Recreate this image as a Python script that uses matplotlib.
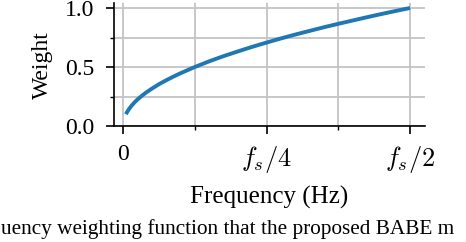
import matplotlib
matplotlib.use("Agg")
import matplotlib.pyplot as plt
from matplotlib.ticker import FixedLocator

plt.rcParams['font.family'] = ['Liberation Serif', 'DejaVu Serif']
plt.rcParams['mathtext.fontset'] = 'cm'

# normalized frequency (fraction of fs/2) and weight
freq = [0.01, 0.015, 0.02, 0.03, 0.04, 0.05, 0.065, 0.08, 0.10, 0.125, 0.15, 0.175,
        0.20, 0.25, 0.30, 0.35, 0.40, 0.45, 0.50, 0.55, 0.60, 0.65, 0.70, 0.75,
        0.80, 0.85, 0.90, 0.95, 1.00]
weight = [0.10, 0.122, 0.141, 0.173, 0.20, 0.224, 0.255, 0.283, 0.316, 0.354, 0.387,
          0.418, 0.447, 0.50, 0.548, 0.592, 0.632, 0.671, 0.707, 0.742, 0.775, 0.806,
          0.837, 0.866, 0.894, 0.922, 0.949, 0.975, 1.00]

xtick_pos = [0.0, 0.5, 1.0]
xtick_labels = ['0', r'$f_s/4$', r'$f_s/2$']
ytick_pos = [0.0, 0.5, 1.0]
ytick_labels = ['0.0', '0.5', '1.0']

W, H = 466, 242
fig = plt.figure(figsize=(W / 100, H / 100), dpi=100)
x0, x1 = 114, 425
ybot = 126
ylim_top = 1.04
ppu = 118
ax = fig.add_axes([x0 / W, 1 - ybot / H, (x1 - x0) / W, ylim_top * ppu / H])

ax.plot(freq, weight, color='#1f77b4', linewidth=2.8, solid_capstyle='butt',
        solid_joinstyle='round', zorder=3)

ax.set_xlim(-0.0315, 1.052)
ax.set_ylim(0, ylim_top)

ax.xaxis.set_major_locator(FixedLocator(xtick_pos))
ax.set_xticklabels(xtick_labels)
ax.xaxis.set_minor_locator(FixedLocator([0.25, 0.75]))
ax.yaxis.set_major_locator(FixedLocator(ytick_pos))
ax.set_yticklabels(ytick_labels)
ax.yaxis.set_minor_locator(FixedLocator([0.25, 0.75]))

ax.grid(True, which='both', color='#c4c4c4', linewidth=1.3, zorder=0)
ax.set_axisbelow(True)

for s in ['top', 'right']:
    ax.spines[s].set_visible(False)
for s in ['left', 'bottom']:
    ax.spines[s].set_linewidth(1.2)
    ax.spines[s].set_color('black')

ax.tick_params(axis='both', which='major', length=6, width=1.2, labelsize=17, color='black')
ax.tick_params(axis='both', which='minor', length=3, width=1.0, color='black')
ax.tick_params(axis='y', which='major', pad=8)
ax.tick_params(axis='x', which='major', pad=7)
for lab in ax.get_xticklabels()[1:]:
    lab.set_fontsize(19)

ax.set_xlabel('Frequency (Hz)', fontsize=18, labelpad=8)
ax.set_ylabel('Weight', fontsize=17, labelpad=9)

fig.text(0.002, 1 - 234 / H, 'uency weighting function that the proposed BABE m',
         fontsize=15.3, ha='left', va='baseline')

fig.savefig('out.png', dpi=100)
